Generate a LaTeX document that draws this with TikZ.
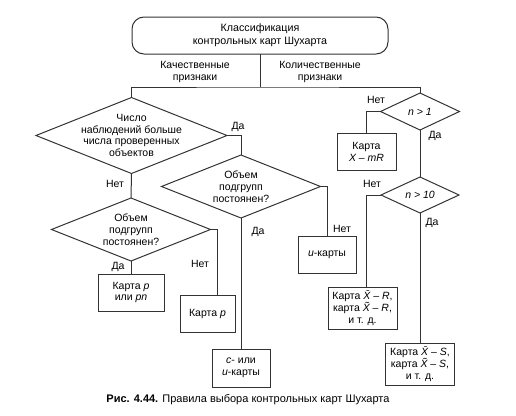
\documentclass[tikz,border=0pt]{standalone}
\usepackage{fontspec}
\setmainfont{Liberation Sans}
\usetikzlibrary{shapes.geometric}
\colorlet{ln}{black!80}
\tikzset{
  x=1pt, y=-1pt,
  conn/.style={draw=ln, line width=1pt},
  tbox/.style={draw=ln, line width=1pt, rectangle, inner sep=0pt, outer sep=0pt, align=center, font=\fontsize{10.5}{11.8}\selectfont},
  dia/.style={draw=ln, line width=1pt, diamond, inner sep=0pt, outer sep=0pt},
  txt/.style={align=center, inner sep=0pt, font=\fontsize{10.5}{11.8}\selectfont},
  lbl/.style={inner sep=0pt, font=\fontsize{10.5}{11.8}\selectfont},
}
\begin{document}
\begin{tikzpicture}
\useasboundingbox (0,0) rectangle (516,415);
% top box
\node[tbox, rounded corners=12pt, minimum width=256pt, minimum height=37pt, font=\fontsize{10.7}{12.8}\selectfont] (top) at (260,35.5) {Классификация\\контрольных карт Шухарта};
\coordinate (j) at (260,87);
% diamonds
\node[dia, minimum width=191pt, minimum height=76pt] (d1) at (131.5,135.5) {};
\node[txt] (d1t) at (d1) {Число\\наблюдений больше\\числа проверенных\\объектов};
\node[dia, minimum width=159pt, minimum height=63pt] (d2) at (241,186.5) {};
\node[txt] (d2t) at (d2) {Объем\\подгрупп\\постоянен?};
\node[dia, minimum width=159pt, minimum height=63pt] (d3) at (131,229.5) {};
\node[txt] (d3t) at (d3) {Объем\\подгрупп\\постоянен?};
\node[dia, minimum width=79pt, minimum height=37pt] (n1) at (420,111.5) {};
\node[txt] (n1t) at (n1) {\itshape n > 1};
\node[dia, minimum width=78pt, minimum height=36pt] (n2) at (420,195) {};
\node[txt] (n2t) at (n2) {\itshape n > 10};
% boxes
\node[tbox, minimum width=59pt, minimum height=37pt] (xmr) at (366.5,151.5) {Карта\\\textit{X – mR}};
\node[tbox, minimum width=58pt, minimum height=37pt] (u) at (327,254.5) {\textit{u}-карты};
\node[tbox, minimum width=66pt, minimum height=37pt] (ppn) at (131,292.5) {Карта \textit{p}\\или \textit{pn}};
\node[tbox, minimum width=55pt, minimum height=37pt] (p) at (207.5,313.5) {Карта \textit{p}};
\node[tbox, minimum width=58pt, minimum height=38pt] (cu) at (241,368) {\textit{c}- или\\\textit{u}-карты};
\node[tbox, minimum width=69pt, minimum height=42pt] (xr) at (362.5,308) {Карта \textit{\=X – R},\\карта \textit{\~X – R},\\и т. д.};
\node[tbox, minimum width=69pt, minimum height=42pt] (xs) at (420,364) {Карта \textit{\=X – S},\\карта \textit{\~X – S},\\и т. д.};
% helper coordinates
\coordinate (k3) at (217,229.5);
\coordinate (k2) at (366,195);
% connectors
\draw[conn] (top.south) -- (j);
\draw[conn] (d1.north) |- (j) -| (n1.north);
\draw[conn] (d1.east) -| (d2.north);
\draw[conn] (d1.south) -- (d3.north);
\draw[conn] (d2.east) -| (u.north);
\draw[conn] (d2.south) -- (cu.north);
\draw[conn] (d3.south) -- (ppn.north);
\draw[conn] (d3.east) -- (k3) -- (k3 |- p.north);
\draw[conn] (n1.west) -| (xmr.north);
\draw[conn] (n1.south) -- (n2.north);
\draw[conn] (n2.west) -- (k2) -- (k2 |- xr.north);
\draw[conn] (n2.south) -- (xs.north);
% labels
\node[txt] (lq) at (195,72) {Качественные\\признаки};
\node[txt] (lk) at (320,72) {Количественные\\признаки};
\node[lbl] (a1) at (238,127) {Да};
\node[lbl] (a2) at (115,184) {Нет};
\node[lbl] (a3) at (258,232) {Да};
\node[lbl] (a4) at (342,229) {Нет};
\node[lbl] (a5) at (118,267) {Да};
\node[lbl] (a6) at (200,264) {Нет};
\node[lbl] (a7) at (376,100) {Нет};
\node[lbl] (a8) at (435,136) {Да};
\node[lbl] (a9) at (372,184) {Нет};
\node[lbl] (a10) at (432,223) {Да};
% caption
\node[lbl, font=\fontsize{11}{13}\selectfont] (cap) at (248,400) {\textbf{Рис. 4.44.} Правила выбора контрольных карт Шухарта};
\end{tikzpicture}
\end{document}
